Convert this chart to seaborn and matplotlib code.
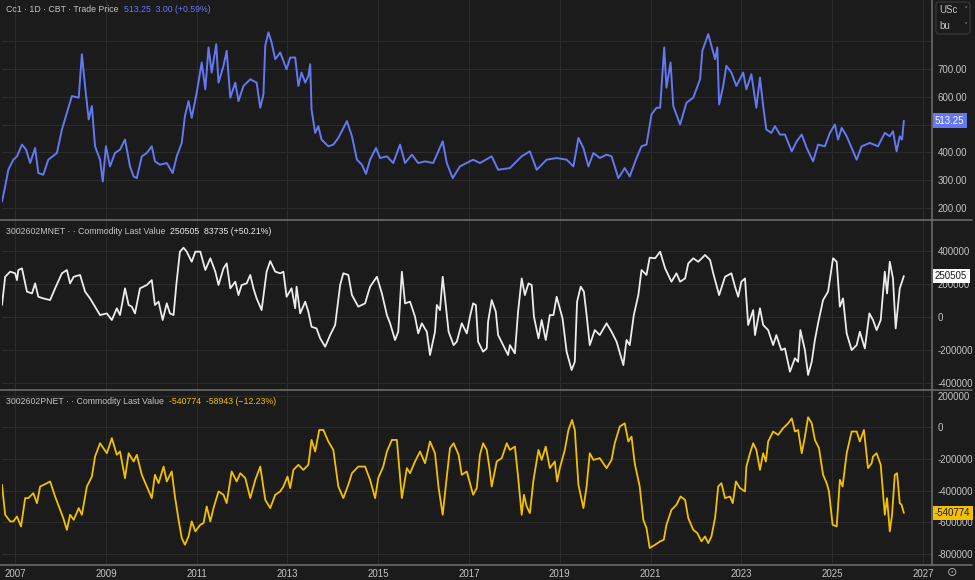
import numpy as np
import pandas as pd
import matplotlib
matplotlib.use("Agg")
import matplotlib.pyplot as plt
import matplotlib.transforms as mtransforms
from matplotlib.lines import Line2D
from matplotlib.patches import FancyBboxPatch
import seaborn as sns

# ---------------- data ----------------
price_year = [2006.71, 2006.78, 2006.85, 2006.96, 2007.04, 2007.15, 2007.24, 2007.33, 2007.44, 2007.51,
              2007.62, 2007.73, 2007.92, 2008.03, 2008.14, 2008.25, 2008.40, 2008.47, 2008.54, 2008.62,
              2008.69, 2008.76, 2008.87, 2008.93, 2009.00, 2009.09, 2009.20, 2009.31, 2009.42, 2009.53,
              2009.61, 2009.68, 2009.79, 2009.90, 2010.01, 2010.08, 2010.19, 2010.34, 2010.47, 2010.56,
              2010.67, 2010.74, 2010.82, 2010.89, 2011.00, 2011.11, 2011.19, 2011.26, 2011.33, 2011.43,
              2011.48, 2011.59, 2011.66, 2011.74, 2011.85, 2011.92, 2012.03, 2012.18, 2012.32, 2012.40,
              2012.47, 2012.51, 2012.58, 2012.65, 2012.73, 2012.84, 2012.98, 2013.06, 2013.17, 2013.24,
              2013.31, 2013.39, 2013.46, 2013.50, 2013.53, 2013.61, 2013.68, 2013.75, 2013.90, 2014.01,
              2014.12, 2014.31, 2014.42, 2014.53, 2014.64, 2014.73, 2014.82, 2014.95, 2015.04, 2015.19,
              2015.33, 2015.48, 2015.59, 2015.74, 2015.88, 2016.03, 2016.21, 2016.29, 2016.42, 2016.51,
              2016.64, 2016.80,
              2017.09, 2017.24, 2017.50, 2017.64, 2017.90, 2018.16, 2018.34, 2018.49, 2018.71, 2018.93,
              2019.15, 2019.30, 2019.41, 2019.52, 2019.63, 2019.74, 2019.88, 2020.03, 2020.14, 2020.29,
              2020.43, 2020.54, 2020.69, 2020.80, 2020.91, 2021.02, 2021.13, 2021.21, 2021.30, 2021.35,
              2021.44, 2021.50, 2021.65, 2021.79, 2021.94, 2022.09, 2022.14, 2022.27, 2022.34, 2022.42,
              2022.47, 2022.51, 2022.60, 2022.67, 2022.78, 2022.89, 2023.04, 2023.11, 2023.22, 2023.33,
              2023.41, 2023.48, 2023.55, 2023.66, 2023.74, 2023.85, 2023.96, 2024.11, 2024.22, 2024.33,
              2024.44, 2024.58, 2024.69, 2024.84, 2024.95, 2025.06, 2025.13, 2025.21, 2025.32, 2025.43,
              2025.54, 2025.65, 2025.83, 2026.01, 2026.16, 2026.27, 2026.34, 2026.42, 2026.49, 2026.54,
              2026.58]
price_value = [224, 278, 338, 374, 386, 428, 410, 362, 416, 326,
               320, 374, 398, 482, 542, 602, 596, 752, 638, 518,
               566, 422, 374, 296, 422, 350, 398, 410, 446, 350,
               314, 308, 386, 398, 422, 368, 356, 362, 326, 386,
               434, 530, 584, 524, 614, 722, 626, 776, 686, 788,
               650, 710, 764, 596, 650, 584, 638, 662, 650, 560,
               608, 782, 830, 794, 734, 758, 698, 740, 740, 638,
               686, 650, 674, 716, 554, 470, 494, 446, 422, 428,
               452, 512, 458, 374, 356, 323, 374, 416, 380, 386,
               362, 428, 362, 392, 362, 368, 362, 392, 440, 362,
               308, 350,
               374, 362, 386, 338, 344, 386, 404, 338, 374, 380,
               374, 350, 452, 416, 350, 398, 380, 392, 386, 308,
               344, 314, 380, 422, 428, 536, 560, 560, 776, 632,
               722, 566, 500, 578, 596, 662, 764, 824, 782, 734,
               776, 572, 638, 710, 686, 638, 686, 626, 680, 560,
               668, 566, 482, 470, 494, 464, 464, 404, 440, 464,
               416, 368, 428, 422, 470, 500, 446, 488, 458, 416,
               374, 422, 434, 422, 470, 458, 476, 404, 458, 446,
               513.25]

mnet_year = [2006.71, 2006.78, 2006.89, 2007.00, 2007.04, 2007.07, 2007.15, 2007.26, 2007.37, 2007.44,
             2007.51, 2007.62, 2007.77, 2007.88, 2008.03, 2008.14, 2008.21, 2008.29, 2008.43, 2008.54,
             2008.65, 2008.76, 2008.87, 2009.02, 2009.13, 2009.24, 2009.31, 2009.42, 2009.50, 2009.57,
             2009.64, 2009.75, 2009.90, 2010.01, 2010.08, 2010.16, 2010.25, 2010.34, 2010.41, 2010.49,
             2010.55, 2010.63, 2010.71, 2010.78, 2010.89, 2010.97, 2011.08, 2011.19, 2011.30, 2011.41,
             2011.48, 2011.59, 2011.66, 2011.74, 2011.85, 2011.92, 2011.99, 2012.10, 2012.18, 2012.25,
             2012.32, 2012.43, 2012.54, 2012.62, 2012.73, 2012.84, 2012.91, 2012.98, 2013.09, 2013.17,
             2013.20, 2013.28, 2013.39, 2013.46, 2013.53, 2013.64, 2013.72, 2013.83, 2013.94, 2014.05,
             2014.16, 2014.23, 2014.34, 2014.42, 2014.56, 2014.71, 2014.82, 2014.97, 2015.08, 2015.19,
             2015.26, 2015.37, 2015.44, 2015.52, 2015.59, 2015.70, 2015.81, 2015.88, 2015.96, 2016.07,
             2016.14, 2016.25, 2016.29, 2016.36, 2016.42, 2016.55, 2016.66, 2016.73, 2016.84, 2016.95,
             2017.02, 2017.09, 2017.15, 2017.20, 2017.31, 2017.39, 2017.42, 2017.50, 2017.59, 2017.64,
             2017.75, 2017.86, 2017.90, 2018.01, 2018.08, 2018.16, 2018.23, 2018.31, 2018.38, 2018.43,
             2018.53, 2018.60, 2018.69, 2018.78, 2018.86, 2018.93, 2019.06, 2019.15, 2019.26, 2019.33,
             2019.38, 2019.46, 2019.53, 2019.59, 2019.66, 2019.77, 2019.88, 2020.03, 2020.14, 2020.25,
             2020.40, 2020.47, 2020.54, 2020.63, 2020.73, 2020.80, 2020.91, 2020.98, 2021.10, 2021.21,
             2021.32, 2021.46, 2021.57, 2021.65, 2021.76, 2021.83, 2021.94, 2022.05, 2022.20, 2022.31,
             2022.38, 2022.51, 2022.64, 2022.78, 2022.86, 2022.93, 2023.00, 2023.08, 2023.15, 2023.26,
             2023.30, 2023.41, 2023.48, 2023.59, 2023.70, 2023.77, 2023.88, 2023.96, 2024.07, 2024.18,
             2024.25, 2024.30, 2024.40, 2024.47, 2024.55, 2024.62, 2024.69, 2024.80, 2024.91, 2025.02,
             2025.10, 2025.17, 2025.24, 2025.32, 2025.43, 2025.54, 2025.61, 2025.72, 2025.82, 2025.90,
             2025.98, 2026.07, 2026.16, 2026.21, 2026.27, 2026.34, 2026.40, 2026.49, 2026.58]
# thousands of contracts
mnet_value = [75, 246, 277, 267, 226, 287, 297, 156, 145, 206,
              125, 115, 105, 176, 267, 287, 206, 246, 257, 156,
              115, 65, 14, 24, -16, 55, 14, 176, 75, 65,
              24, 176, 196, 226, 75, 95, -16, 85, 24, 14,
              196, 398, 422, 398, 337, 398, 398, 287, 358, 277,
              196, 297, 327, 176, 216, 135, 196, 206, 257, 176,
              115, 44, 277, 341, 277, 267, 277, 125, 176, 55,
              186, 24, 95, 34, -57, -67, -127, -178, -107, -46,
              196, 267, 257, 135, 65, 85, 186, 246, 145, 14,
              -36, -137, -87, 277, 85, 95, 4, -97, -36, -87,
              -228, -87, 75, 44, 246, -87, -168, -147, -36, -97,
              4, 85, 75, -147, -208, -188, -26, 105, 34, -107,
              -168, -228, -168, -218, 34, 236, 135, 206, 196, 4,
              -127, -16, -137, 14, 14, 125, -6, -208, -319, -269,
              95, 186, 156, 14, -168, -77, -107, -36, -87, -147,
              -289, -137, -168, 14, 135, 287, 257, 362, 358, 398,
              297, 216, 267, 216, 236, 327, 358, 337, 378, 348,
              267, 135, 246, 267, 186, 125, 216, 236, -46, 44,
              -107, 55, -46, -77, -168, -107, -198, -188, -329, -248,
              -269, -77, -198, -349, -269, -137, -36, 105, 156, 358,
              337, 65, 115, -97, -198, -168, -87, -188, 24, -16,
              -77, -16, 277, 145, 337, 236, -67, 176, 250.505]

pnet_year = [2006.71, 2006.78, 2006.89, 2006.96, 2007.04, 2007.13, 2007.22, 2007.29, 2007.40, 2007.48,
             2007.55, 2007.70, 2007.77, 2007.88, 2007.99, 2008.06, 2008.14, 2008.21, 2008.29, 2008.40,
             2008.47, 2008.58, 2008.69, 2008.76, 2008.87, 2009.02, 2009.13, 2009.24, 2009.31, 2009.42,
             2009.50, 2009.61, 2009.68, 2009.79, 2009.90, 2010.01, 2010.08, 2010.16, 2010.27, 2010.34,
             2010.45, 2010.52, 2010.60, 2010.67, 2010.74, 2010.82, 2010.89, 2010.97, 2011.08, 2011.15,
             2011.22, 2011.30, 2011.37, 2011.48, 2011.59, 2011.66, 2011.77, 2011.88, 2011.96, 2012.07,
             2012.18, 2012.29, 2012.40, 2012.51, 2012.62, 2012.73, 2012.84, 2012.91, 2013.00, 2013.06,
             2013.13, 2013.24, 2013.35, 2013.46, 2013.53, 2013.61, 2013.70, 2013.79, 2013.90, 2014.01,
             2014.12, 2014.23, 2014.34, 2014.42, 2014.56, 2014.71, 2014.82, 2014.93, 2015.00, 2015.11,
             2015.19, 2015.30, 2015.41, 2015.52, 2015.63, 2015.70, 2015.81, 2015.92, 2016.03, 2016.14,
             2016.25, 2016.33, 2016.42, 2016.51, 2016.58, 2016.66, 2016.77, 2016.84, 2016.95,
             2017.09, 2017.17, 2017.24, 2017.31, 2017.39, 2017.45, 2017.50, 2017.61, 2017.72, 2017.83,
             2017.90, 2018.01, 2018.08, 2018.16, 2018.21, 2018.27, 2018.34, 2018.42, 2018.53, 2018.60,
             2018.69, 2018.78, 2018.89, 2018.94, 2019.00, 2019.11, 2019.19, 2019.27, 2019.33, 2019.41,
             2019.52, 2019.59, 2019.66, 2019.74, 2019.88, 2020.03, 2020.14, 2020.21, 2020.32, 2020.43,
             2020.51, 2020.58, 2020.65, 2020.76, 2020.84, 2020.91, 2020.98, 2021.10, 2021.21, 2021.29,
             2021.35, 2021.46, 2021.57, 2021.66, 2021.76, 2021.83, 2021.94, 2022.03, 2022.12, 2022.20,
             2022.27, 2022.34, 2022.42, 2022.49, 2022.56, 2022.64, 2022.75, 2022.81, 2022.88, 2022.97,
             2023.08, 2023.11, 2023.19, 2023.26, 2023.33, 2023.41, 2023.48, 2023.54, 2023.59, 2023.70,
             2023.81, 2023.92, 2024.03, 2024.11, 2024.18, 2024.25, 2024.33, 2024.40, 2024.47, 2024.55,
             2024.62, 2024.71, 2024.80, 2024.88, 2024.93, 2025.01, 2025.10, 2025.17, 2025.23, 2025.32,
             2025.43, 2025.54, 2025.61, 2025.70, 2025.79, 2025.87, 2025.90, 2025.98, 2026.07, 2026.16,
             2026.21, 2026.27, 2026.32, 2026.38, 2026.43, 2026.49, 2026.53, 2026.58]
# thousands of contracts
pnet_value = [-363, -552, -594, -594, -563, -626, -447, -447, -416, -479,
              -374, -353, -342, -437, -521, -573, -647, -552, -584, -510,
              -552, -374, -311, -185, -101, -164, -69, -174, -153, -321,
              -164, -216, -174, -300, -374, -447, -300, -353, -248, -342,
              -279, -437, -584, -699, -741, -689, -594, -657, -615, -605,
              -500, -594, -510, -405, -426, -479, -279, -342, -290, -321,
              -447, -332, -248, -458, -510, -426, -405, -374, -311, -384,
              -269, -237, -269, -237, -80, -153, -17, -17, -90, -143,
              -374, -447, -363, -290, -248, -248, -332, -447, -321, -248,
              -153, -80, -80, -447, -258, -290, -216, -153, -227, -90,
              -164, -384, -552, -311, -132, -101, -174, -300, -279,
              -426, -384, -174, -101, -143, -258, -374, -216, -195, -101,
              -143, -122, -311, -552, -426, -500, -542, -332, -143, -206,
              -122, -258, -216, -342, -258, -143, -17, 46, -17, -363,
              -510, -374, -164, -206, -195, -258, -206, -101, 4, 25,
              -90, -59, -227, -374, -584, -636, -762, -741, -720, -710,
              -615, -521, -489, -437, -458, -573, -647, -668, -720, -689,
              -731, -689, -573, -374, -353, -447, -437, -479, -342, -384,
              -405, -248, -164, -101, -143, -269, -164, -216, -90, -27,
              -48, -6, 25, 56, -27, -17, -164, -59, 63, 25,
              -80, -132, -300, -353, -405, -615, -626, -332, -374, -164,
              -27, -27, -90, -17, -258, -227, -185, -164, -237, -552,
              -447, -657, -552, -300, -290, -479, -489, -540.774]

year_ticks = [2007, 2009, 2011, 2013, 2015, 2017, 2019, 2021, 2023, 2025, 2027]
price_ticks = [200, 300, 400, 500, 600, 700, 800]
price_tick_labels = ["200.00", "300.00", "400.00", "", "600.00", "700.00", ""]
mnet_ticks = [-400, -200, 0, 200, 400]
mnet_tick_labels = ["-400000", "-200000", "0", "200000", "400000"]
pnet_ticks = [-800, -600, -400, -200, 0, 200]
pnet_tick_labels = ["-800000", "-600000", "-400000", "-200000", "0", "200000"]

price_header = ("Cc1 · 1D · CBT · Trade Price", "513.25  3.00 (+0.59%)")
mnet_header = ("3002602MNET · · Commodity Last Value", "250505  83735 (+50.21%)")
pnet_header = ("3002602PNET · · Commodity Last Value", "-540774  -58943 (\u221212.23%)")
last_labels = ["513.25", "250505", "-540774"]

# ---------------- styling ----------------
BG = "#1b1b1b"
GRID = "#2c2c2c"
TXT = "#c4c4c4"
SEP = "#6a6a6a"
BLUE = "#6478f2"
WHITE = "#ececec"
GOLD = "#f2c000"

sns.set_theme(style="dark")
plt.rcParams["font.family"] = ["Liberation Sans", "DejaVu Sans"]
plt.rcParams["axes.facecolor"] = BG
plt.rcParams["figure.facecolor"] = BG

W, H = 975, 580
fig = plt.figure(figsize=(W / 100, H / 100), dpi=100)


def fx(px):
    return px / W


def fy(py):
    return 1 - py / H


x_left, x_right = 2, 932
panels = [(0, 220), (220, 390), (390, 565)]
axes = []
for top, bot in panels:
    ax = fig.add_axes([fx(x_left), fy(bot), fx(x_right - x_left), (bot - top) / H])
    ax.set_facecolor(BG)
    axes.append(ax)

ax_p, ax_m, ax_n = axes
df_p = pd.DataFrame({"year": price_year, "value": price_value})
df_m = pd.DataFrame({"year": mnet_year, "value": mnet_value})
df_n = pd.DataFrame({"year": pnet_year, "value": pnet_value})

sns.lineplot(data=df_p, x="year", y="value", ax=ax_p, color=BLUE, linewidth=1.4,
             estimator=None, sort=False)
sns.lineplot(data=df_m, x="year", y="value", ax=ax_m, color=WHITE, linewidth=1.3,
             estimator=None, sort=False)
sns.lineplot(data=df_n, x="year", y="value", ax=ax_n, color=GOLD, linewidth=1.3,
             estimator=None, sort=False)

ylims = [(158, 946), (-440, 590), (-869, 235)]
yticks = [price_ticks, mnet_ticks, pnet_ticks]
ylabels = [price_tick_labels, mnet_tick_labels, pnet_tick_labels]

for i, ax in enumerate(axes):
    ax.set_xlim(2006.71, 2027.2)
    ax.set_ylim(*ylims[i])
    ax.set_xlabel("")
    ax.set_ylabel("")
    ax.set_xticks(year_ticks)
    ax.set_yticks(yticks[i])
    ax.set_yticklabels(ylabels[i])
    ax.yaxis.tick_right()
    ax.tick_params(axis="y", length=0, pad=4, labelsize=7, labelcolor=TXT)
    ax.tick_params(axis="x", length=0, pad=3, labelsize=7, labelcolor=TXT)
    if i < 2:
        ax.set_xticklabels([])
    else:
        ax.set_xticklabels([str(y) for y in year_ticks])
    ax.grid(True, color=GRID, linewidth=0.8)
    for s in ["top", "left", "bottom"]:
        ax.spines[s].set_visible(False)
    ax.spines["right"].set_color(SEP)
    ax.spines["right"].set_linewidth(1.2)

# separators
for py in [220, 390, 565]:
    fig.add_artist(Line2D([0, fx(972)], [fy(py), fy(py)], color=SEP, linewidth=1.2))

# headers
headers = [(price_header, BLUE, 10), (mnet_header, WHITE, 232), (pnet_header, GOLD, 402)]
renderer = fig.canvas.get_renderer()
for (label, val), col, py in headers:
    t1 = fig.text(fx(6), fy(py), label, color=TXT, fontsize=6.3, va="center", ha="left")
    bb = t1.get_window_extent(renderer=renderer)
    fig.text((bb.x1 + 5) / W, fy(py), val, color=col, fontsize=6.3, va="center", ha="left")

# last-value boxes
box_cfg = [(ax_p, price_value[-1], BLUE, "white"),
           (ax_m, mnet_value[-1], "white", "#1b1b1b"),
           (ax_n, pnet_value[-1], GOLD, "#1b1b1b")]
for (ax, v, fc, tc), lab in zip(box_cfg, last_labels):
    tr = mtransforms.blended_transform_factory(ax.transAxes, ax.transData)
    ax.text(1.0 + 3 / 930, v, lab, transform=tr, ha="left", va="center", fontsize=7,
            color=tc, clip_on=False, zorder=10,
            bbox=dict(boxstyle="square,pad=0.25", fc=fc, ec="none"))

# unit selector box
fig.add_artist(FancyBboxPatch((fx(936), fy(34)), fx(34), 32 / H,
                              boxstyle="round,pad=0,rounding_size=0.004",
                              fc=BG, ec="#3a3a3a", linewidth=0.8, transform=fig.transFigure))
fig.text(fx(939), fy(10), "USc", color=TXT, fontsize=7, va="center", ha="left")
fig.text(fx(939), fy(26), "bu", color=TXT, fontsize=7, va="center", ha="left")
fig.text(fx(965), fy(10), "\u02c5", color="#888888", fontsize=6, va="center", ha="center",
         family="DejaVu Sans")
fig.text(fx(965), fy(26), "\u02c5", color="#888888", fontsize=6, va="center", ha="center",
         family="DejaVu Sans")

# settings icon
fig.text(fx(952), fy(572), "\u2299", color="#aaaaaa", fontsize=9, va="center", ha="center",
         family="DejaVu Sans")

fig.savefig("out.png", dpi=100, facecolor=BG)
